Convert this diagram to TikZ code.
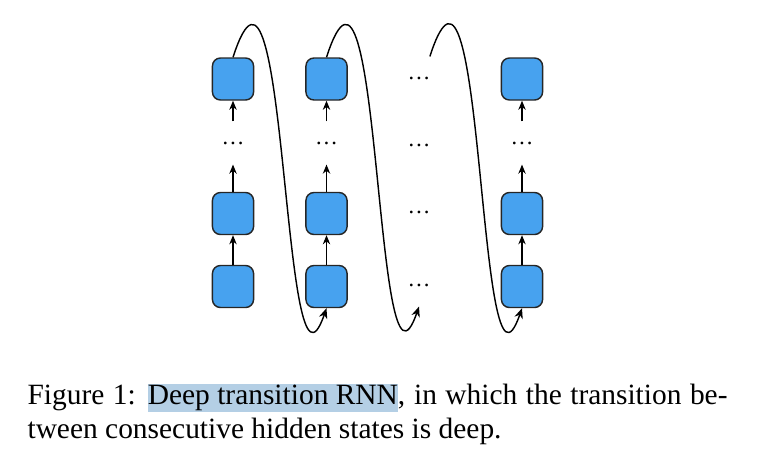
\documentclass[tikz,border=0pt]{standalone}
\usepackage{fontspec}
\setmainfont{Liberation Serif}
\usetikzlibrary{arrows.meta}
\definecolor{cellBlue}{HTML}{47A2EF}
\definecolor{markBlue}{HTML}{B4CFE5}

\begin{document}
\begin{tikzpicture}
[x=0.35pt,y=-0.35pt,
  cellDecorate/.style={shape=rectangle,rounded corners=2.8pt,minimum width=14.4pt,
    minimum height=14.7pt,inner sep=0pt,draw=black!85,fill=cellBlue,line width=0.5pt},
  dotsDecorate/.style={shape=rectangle,minimum width=14.4pt,minimum height=14.7pt,
    inner sep=0pt,font=\fontsize{8}{8}\selectfont},
  upDecorate/.style={-{Stealth[length=3.2pt,width=2.6pt]},line width=0.4pt},
  loopDecorate/.style={-{Stealth[length=3.6pt,width=3pt]},line width=0.5pt},
  captionDecorate/.style={anchor=base west,inner sep=0pt,font=\fontsize{10.3}{12}\selectfont}]
\useasboundingbox (0,0) rectangle (767,463);
%% hidden states
\foreach \nodename/\x/\y in {
  h1-1/233/286.5, h1-2/233/213.5, h1-4/233/79,
  h2-1/326.5/286.5, h2-2/326.5/213.5, h2-4/326.5/79,
  h4-1/522/286.5, h4-2/522/213.5, h4-4/522/79}
{
  \node (\nodename) at (\x,\y) [cellDecorate] {};
}
%% dots
\foreach \nodename/\x/\y in {
  h1-3/233/143, h2-3/326.5/143, h4-3/522/143,
  h3-1/419/285, h3-2/419/212, h3-3/419/145, h3-4/419/78}
{
  \node (\nodename) at (\x,\y) [dotsDecorate] {\ldots};
}
%% deep transitions inside one step
\path
\foreach \startnode/\endnode in {
  h1-1/h1-2, h1-2/h1-3, h1-3/h1-4,
  h2-1/h2-2, h2-2/h2-3, h2-3/h2-4,
  h4-1/h4-2, h4-2/h4-3, h4-3/h4-4}
{
  (\startnode) edge[upDecorate] (\endnode)
};
%% from one step to the next
\draw[loopDecorate] (h1-4.north) .. controls +(55,-170) and +(-45,130) .. (h2-1.south);
\draw[loopDecorate] (h2-4.north) .. controls +(55,-170) and +(-45,130) .. (h3-1.south);
\draw[loopDecorate] ([xshift=3.8pt]h3-4.north) .. controls +(55,-170) and +(-45,130) .. (h4-1.south);
%% caption
\node (cap1) at (27,404) [captionDecorate]
  {\makebox[245pt][s]{Figure 1: {\fboxsep=0pt\colorbox{markBlue}{\rule[-2.8pt]{0pt}{9.8pt}Deep transition RNN}}, in which the transition be-}};
\node (cap2) at (27,438) [captionDecorate] {tween consecutive hidden states is deep.};
\end{tikzpicture}
\end{document}
